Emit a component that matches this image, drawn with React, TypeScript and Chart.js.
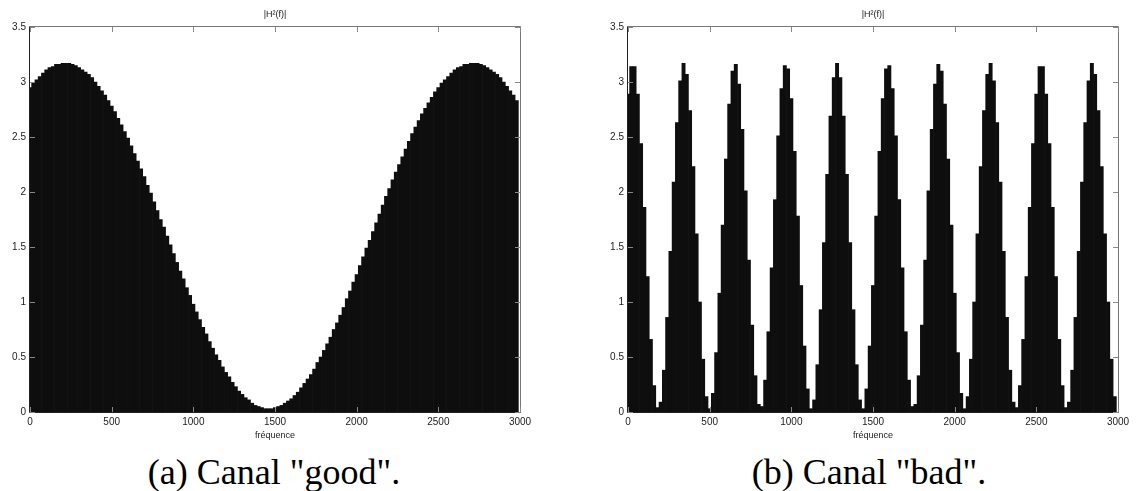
import React, { useEffect, useRef } from "react";
import { Chart, registerables } from "chart.js";

Chart.register(...registerables);

// Frequency bins (Hz)
const FREQS = [
  0, 20, 40, 60, 80, 100, 120, 140, 160, 180,
  200, 220, 240, 260, 280, 300, 320, 340, 360, 380,
  400, 420, 440, 460, 480, 500, 520, 540, 560, 580,
  600, 620, 640, 660, 680, 700, 720, 740, 760, 780,
  800, 820, 840, 860, 880, 900, 920, 940, 960, 980,
  1000, 1020, 1040, 1060, 1080, 1100, 1120, 1140, 1160, 1180,
  1200, 1220, 1240, 1260, 1280, 1300, 1320, 1340, 1360, 1380,
  1400, 1420, 1440, 1460, 1480, 1500, 1520, 1540, 1560, 1580,
  1600, 1620, 1640, 1660, 1680, 1700, 1720, 1740, 1760, 1780,
  1800, 1820, 1840, 1860, 1880, 1900, 1920, 1940, 1960, 1980,
  2000, 2020, 2040, 2060, 2080, 2100, 2120, 2140, 2160, 2180,
  2200, 2220, 2240, 2260, 2280, 2300, 2320, 2340, 2360, 2380,
  2400, 2420, 2440, 2460, 2480, 2500, 2520, 2540, 2560, 2580,
  2600, 2620, 2640, 2660, 2680, 2700, 2720, 2740, 2760, 2780,
  2800, 2820, 2840, 2860, 2880, 2900, 2920, 2940, 2960, 2980,
];

// |H^2(f)| for the "good" channel
const GOOD = [
  2.95, 2.99, 3.02, 3.05, 3.08, 3.11, 3.13, 3.14, 3.16, 3.16,
  3.17, 3.17, 3.17, 3.16, 3.15, 3.13, 3.11, 3.09, 3.07, 3.04,
  3.0, 2.96, 2.92, 2.88, 2.83, 2.78, 2.73, 2.67, 2.61, 2.55,
  2.49, 2.42, 2.35, 2.28, 2.21, 2.14, 2.06, 1.99, 1.91, 1.83,
  1.75, 1.68, 1.6, 1.52, 1.44, 1.36, 1.28, 1.21, 1.13, 1.06,
  0.98, 0.91, 0.84, 0.77, 0.71, 0.64, 0.58, 0.52, 0.47, 0.41,
  0.36, 0.32, 0.27, 0.23, 0.19, 0.16, 0.13, 0.11, 0.08, 0.06,
  0.05, 0.04, 0.03, 0.03, 0.03, 0.04, 0.05, 0.06, 0.08, 0.1,
  0.12, 0.15, 0.18, 0.22, 0.26, 0.3, 0.34, 0.39, 0.45, 0.5,
  0.56, 0.62, 0.68, 0.75, 0.81, 0.88, 0.95, 1.03, 1.1, 1.18,
  1.25, 1.33, 1.41, 1.49, 1.56, 1.64, 1.72, 1.8, 1.88, 1.96,
  2.03, 2.11, 2.18, 2.25, 2.32, 2.39, 2.46, 2.53, 2.59, 2.65,
  2.71, 2.76, 2.81, 2.86, 2.91, 2.95, 2.99, 3.02, 3.05, 3.08,
  3.11, 3.13, 3.14, 3.16, 3.16, 3.17, 3.17, 3.17, 3.16, 3.15,
  3.13, 3.11, 3.09, 3.07, 3.04, 3.0, 2.96, 2.92, 2.88, 2.83,
];

// |H^2(f)| for the "bad" channel
const BAD = [
  2.89, 3.14, 3.14, 2.89, 2.44, 1.86, 1.23, 0.66, 0.24, 0.04,
  0.09, 0.38, 0.86, 1.46, 2.09, 2.63, 3.01, 3.17, 3.07, 2.74,
  2.23, 1.62, 1.0, 0.48, 0.14, 0.03, 0.17, 0.54, 1.08, 1.7,
  2.3, 2.8, 3.1, 3.16, 2.98, 2.57, 2.01, 1.38, 0.79, 0.33,
  0.07, 0.05, 0.29, 0.73, 1.31, 1.93, 2.51, 2.94, 3.15, 3.12,
  2.85, 2.37, 1.78, 1.15, 0.6, 0.21, 0.03, 0.11, 0.43, 0.93,
  1.54, 2.16, 2.69, 3.04, 3.17, 3.04, 2.69, 2.16, 1.54, 0.93,
  0.43, 0.11, 0.03, 0.21, 0.6, 1.15, 1.78, 2.37, 2.85, 3.12,
  3.15, 2.94, 2.51, 1.93, 1.31, 0.73, 0.29, 0.05, 0.07, 0.33,
  0.79, 1.38, 2.01, 2.57, 2.98, 3.16, 3.1, 2.8, 2.3, 1.7,
  1.08, 0.54, 0.17, 0.03, 0.14, 0.48, 1.0, 1.62, 2.23, 2.74,
  3.07, 3.17, 3.01, 2.63, 2.09, 1.46, 0.86, 0.38, 0.09, 0.04,
  0.24, 0.66, 1.23, 1.86, 2.44, 2.89, 3.14, 3.14, 2.89, 2.44,
  1.86, 1.23, 0.66, 0.24, 0.04, 0.09, 0.38, 0.86, 1.46, 2.09,
  2.63, 3.01, 3.17, 3.07, 2.74, 2.23, 1.62, 1.0, 0.48, 0.14,
];

const X_TICKS = [0, 500, 1000, 1500, 2000, 2500, 3000];
const Y_TICKS = [0, 0.5, 1, 1.5, 2, 2.5, 3, 3.5];

const TITLE = "|H\u00B2(f)|";
const X_LABEL = "fréquence";
const CAPTION_A = '(a) Canal "good".';
const CAPTION_B = '(b) Canal "bad".';

const decor = {
  id: "decor",
  afterDatasetsDraw(chart: any) {
    const { ctx, chartArea: a, scales } = chart;
    const x = scales.x;
    const y = scales.y;
    ctx.save();
    ctx.lineWidth = 1;
    ctx.strokeStyle = "#777";
    ctx.beginPath();
    ctx.moveTo(a.left - 0.5, a.top - 0.5);
    ctx.lineTo(a.right + 0.5, a.top - 0.5);
    ctx.lineTo(a.right + 0.5, a.bottom + 0.5);
    ctx.stroke();
    ctx.strokeStyle = "#222";
    ctx.beginPath();
    ctx.moveTo(a.left - 0.5, a.top - 0.5);
    ctx.lineTo(a.left - 0.5, a.bottom + 0.5);
    ctx.lineTo(a.right + 0.5, a.bottom + 0.5);
    ctx.stroke();
    ctx.strokeStyle = "#888";
    ctx.beginPath();
    const tl = 5;
    for (const v of X_TICKS) {
      const px = Math.round(x.getPixelForValue(v)) + 0.5;
      ctx.moveTo(px, a.top);
      ctx.lineTo(px, a.top + tl);
      ctx.moveTo(px, a.bottom);
      ctx.lineTo(px, a.bottom - tl);
    }
    for (const v of Y_TICKS) {
      const py = Math.round(y.getPixelForValue(v)) + 0.5;
      ctx.moveTo(a.left, py);
      ctx.lineTo(a.left + tl, py);
      ctx.moveTo(a.right, py);
      ctx.lineTo(a.right - tl, py);
    }
    ctx.stroke();
    ctx.fillStyle = "#222";
    ctx.font = '9px "Liberation Sans", Arial, sans-serif';
    ctx.textAlign = "center";
    ctx.textBaseline = "middle";
    const cx = (a.left + a.right) / 2;
    ctx.fillText(TITLE, cx, 15);
    ctx.fillText(X_LABEL, cx, a.bottom + 24);
    ctx.restore();
  },
};

function BarPanel({ values, width, padRight }: { values: number[]; width: number; padRight: number }) {
  const ref = useRef<HTMLCanvasElement | null>(null);
  useEffect(() => {
    if (!ref.current) return;
    const chart = new Chart(ref.current, {
      type: "bar",
      data: {
        datasets: [
          {
            data: values.map((v, i) => ({ x: FREQS[i], y: v })),
            backgroundColor: "#0e0e0e",
            borderWidth: 0,
            barPercentage: 1,
            categoryPercentage: 1,
            clip: 0,
          } as any,
        ],
      },
      options: {
        animation: false,
        responsive: false,
        events: [],
        layout: { padding: { top: 27, right: padRight, left: 0, bottom: 0 } },
        plugins: { legend: { display: false }, tooltip: { enabled: false }, title: { display: false } },
        scales: {
          x: {
            type: "linear",
            min: 0,
            max: 3000,
            offset: false,
            grid: { display: false, drawTicks: false, tickLength: 0 },
            border: { display: false },
            afterBuildTicks: (axis: any) => {
              axis.ticks = X_TICKS.map((v) => ({ value: v }));
            },
            afterFit: (axis: any) => {
              axis.height = 28;
            },
            ticks: {
              autoSkip: false,
              maxRotation: 0,
              padding: 4,
              color: "#222",
              font: { family: '"Liberation Sans", Arial, sans-serif', size: 10 },
              callback: (v: any) => String(v),
            },
          },
          y: {
            type: "linear",
            min: 0,
            max: 3.5,
            grid: { display: false, drawTicks: false, tickLength: 0 },
            border: { display: false },
            afterBuildTicks: (axis: any) => {
              axis.ticks = Y_TICKS.map((v) => ({ value: v }));
            },
            afterFit: (axis: any) => {
              axis.width = 30;
            },
            ticks: {
              autoSkip: false,
              padding: 4,
              color: "#222",
              font: { family: '"Liberation Sans", Arial, sans-serif', size: 10 },
              callback: (v: any) => String(v),
            },
          },
        },
      },
      plugins: [decor],
    } as any);
    return () => chart.destroy();
  }, [values, width, padRight]);
  return <canvas ref={ref} width={width} height={440} />;
}

const captionStyle: React.CSSProperties = {
  position: "absolute",
  top: 454,
  width: 400,
  textAlign: "center",
  fontFamily: '"Liberation Serif", "Times New Roman", serif',
  fontSize: 36,
  lineHeight: "36px",
  color: "#000",
  whiteSpace: "pre",
};

export default function App() {
  return (
    <div style={{ position: "absolute", left: 0, top: 0, width: 1140, height: 491, background: "#fff", overflow: "hidden" }}>
      <div style={{ position: "absolute", left: 0, top: 0 }}>
        <BarPanel values={GOOD} width={560} padRight={40} />
      </div>
      <div style={{ position: "absolute", left: 598, top: 0 }}>
        <BarPanel values={BAD} width={542} padRight={22} />
      </div>
      <div style={{ ...captionStyle, left: 274 - 200 }}>{CAPTION_A}</div>
      <div style={{ ...captionStyle, left: 869 - 200 }}>{CAPTION_B}</div>
    </div>
  );
}
